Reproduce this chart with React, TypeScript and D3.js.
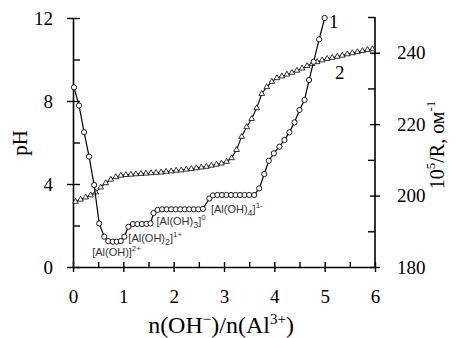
import { useEffect, useRef } from 'react';
import * as d3 from 'd3';

// curve 1: pH vs n(OH-)/n(Al3+)
const phX = [0.02, 0.12, 0.22, 0.32, 0.42, 0.52, 0.62, 0.7, 0.79, 0.87, 0.95, 1.02, 1.1, 1.19, 1.28, 1.37, 1.46, 1.54,
  1.6, 1.68, 1.77, 1.86, 1.95, 2.04, 2.13, 2.22, 2.31, 2.4, 2.49, 2.58, 2.71, 2.78, 2.87, 2.96, 3.05, 3.14, 3.23, 3.32,
  3.41, 3.5, 3.6, 3.7, 3.8, 3.89, 3.99, 4.1, 4.2, 4.3, 4.4, 4.5, 4.6, 4.69, 4.78, 4.89, 5.0];
const phY = [8.66, 7.78, 6.5, 5.32, 3.95, 2.1, 1.46, 1.25, 1.22, 1.22, 1.25, 1.46, 1.94, 2.07, 2.07, 2.07, 2.08, 2.1,
  2.6, 2.75, 2.78, 2.78, 2.78, 2.78, 2.78, 2.78, 2.78, 2.78, 2.78, 2.8, 3.3, 3.45, 3.47, 3.47, 3.47, 3.47, 3.47, 3.47,
  3.47, 3.47, 3.47, 3.79, 4.48, 5.12, 5.48, 5.8, 6.12, 6.49, 6.97, 7.57, 8.05, 9.01, 9.89, 10.97, 12.0];

// curve 2: 10^5/R
const condX = [0.05, 0.15, 0.25, 0.35, 0.45, 0.55, 0.65, 0.75, 0.85, 0.95, 1.05, 1.15, 1.25, 1.35, 1.45, 1.55, 1.65,
  1.75, 1.85, 1.95, 2.05, 2.15, 2.25, 2.35, 2.45, 2.55, 2.65, 2.75, 2.85, 2.95, 3.05, 3.15, 3.25, 3.35, 3.45, 3.55,
  3.65, 3.75, 3.85, 3.95, 4.05, 4.15, 4.25, 4.35, 4.45, 4.55, 4.65, 4.75, 4.85, 4.95, 5.05, 5.15, 5.25, 5.35, 5.45,
  5.55, 5.65, 5.75, 5.85, 5.95];
const condY = [198.3, 198.9, 199.5, 200.1, 200.9, 202.3, 203.5, 204.5, 205.2, 205.6, 205.8, 205.9, 206.0, 206.1,
  206.2, 206.3, 206.4, 206.5, 206.7, 206.8, 207.0, 207.1, 207.3, 207.5, 207.7, 207.9, 208.1, 208.4, 208.7, 209.0,
  209.5, 210.5, 212.8, 216.5, 219.2, 221.5, 224.5, 228.5, 230.4, 231.9, 232.9, 233.4, 233.9, 234.4, 235.0, 235.6,
  236.3, 236.9, 237.4, 237.9, 238.3, 238.6, 238.9, 239.2, 239.6, 239.9, 240.2, 240.5, 240.8, 241.0];

const xTicks = [0, 1, 2, 3, 4, 5, 6];
const xMinor = [0.5, 1.5, 2.5, 3.5, 4.5, 5.5];
const phTicks = [0, 4, 8, 12];
const phMinor = [2, 6, 10];
const condTicks = [180, 200, 220, 240];
const condMinor = [190, 210, 230, 250];

// species labels: [x, pH (baseline), base, sub, charge]
const species: [number, number, string, string, string][] = [
  [0.38, 0.53, '[Al(OH)', '', '2+'],
  [1.1, 1.22, '[Al(OH)', '2', '1+'],
  [1.66, 2.02, '[Al(OH)', '3', '0'],
  [2.74, 2.58, '[Al(OH)', '4', '1-'],
];

export default function App() {
  const ref = useRef<SVGSVGElement>(null);

  useEffect(() => {
    if (!ref.current) return;
    const width = 460;
    const height = 338;
    const svg = d3.select(ref.current).attr('width', width).attr('height', height);
    svg.selectAll('*').remove();

    const x = d3.scaleLinear().domain([0, 6]).range([73, 375]);
    const y = d3.scaleLinear().domain([0, 12]).range([267, 18]);
    const y2 = d3.scaleLinear().domain([180, 250]).range([267, 17]);

    const serif = 'Liberation Serif, Times New Roman, serif';

    // axes
    const axisStyle = (g: any) => {
      g.select('.domain').attr('stroke', '#000').attr('stroke-width', 1.6);
      g.selectAll('.tick line').attr('stroke', '#000').attr('stroke-width', 1.4);
      g.selectAll('.tick text').attr('font-family', serif).attr('font-size', 19).attr('fill', '#000');
    };

    const gx = svg.append('g').attr('transform', 'translate(0,267)')
      .call(d3.axisBottom(x).tickValues(xTicks).tickFormat(d3.format('d')).tickSize(5).tickSizeOuter(0).tickPadding(18))
      .call(axisStyle);
    gx.selectAll('.tick line').attr('y1', -5);
    svg.append('g').attr('transform', 'translate(0,267)')
      .call(d3.axisBottom(x).tickValues(xMinor).tickSize(-5).tickFormat(() => ''))
      .call(axisStyle).select('.domain').remove();

    const gy = svg.append('g').attr('transform', 'translate(73,0)')
      .call(d3.axisLeft(y).tickValues(phTicks).tickSize(6).tickSizeOuter(0).tickPadding(14))
      .call(axisStyle);
    gy.selectAll('.tick line').attr('x1', 7);
    svg.append('g').attr('transform', 'translate(73,0)')
      .call(d3.axisLeft(y).tickValues(phMinor).tickSize(-7).tickFormat(() => ''))
      .call(axisStyle).select('.domain').remove();

    const gy2 = svg.append('g').attr('transform', 'translate(375,0)')
      .call(d3.axisRight(y2).tickValues(condTicks).tickSize(5).tickSizeOuter(0).tickPadding(17))
      .call(axisStyle);
    gy2.selectAll('.tick line').attr('x1', -5);
    gy2.select('.domain').attr('d', `M0,${y2(250)}V${y2(180)}`);
    svg.append('g').attr('transform', 'translate(375,0)')
      .call(d3.axisRight(y2).tickValues(condMinor).tickSize(-7).tickFormat(() => ''))
      .call(axisStyle).select('.domain').remove();

    // curve 2 (triangles)
    const cond = condX.map((v, i) => [v, condY[i]] as [number, number]);
    svg.append('path')
      .attr('d', d3.line<[number, number]>().x((d) => x(d[0])).y((d) => y2(d[1]))(cond) || '')
      .attr('fill', 'none').attr('stroke', '#000').attr('stroke-width', 1.1);
    const tri = d3.symbol().type(d3.symbolTriangle).size(14);
    svg.append('g').selectAll('path').data(cond).join('path')
      .attr('d', tri)
      .attr('transform', (d) => `translate(${x(d[0])},${y2(d[1])})`)
      .attr('fill', '#fff').attr('stroke', '#000').attr('stroke-width', 0.8);

    // curve 1 (circles)
    const ph = phX.map((v, i) => [v, phY[i]] as [number, number]);
    svg.append('path')
      .attr('d', d3.line<[number, number]>().x((d) => x(d[0])).y((d) => y(d[1]))(ph) || '')
      .attr('fill', 'none').attr('stroke', '#000').attr('stroke-width', 1.2);
    svg.append('g').selectAll('circle').data(ph).join('circle')
      .attr('cx', (d) => x(d[0])).attr('cy', (d) => y(d[1])).attr('r', 2.6)
      .attr('fill', '#fff').attr('stroke', '#000').attr('stroke-width', 0.9);

    // species labels
    species.forEach(([sx, sy, base, sub, charge]) => {
      const t = svg.append('text').attr('x', x(sx)).attr('y', y(sy))
        .attr('font-family', 'Liberation Sans, Arial, sans-serif').attr('font-size', 11).attr('fill', '#333');
      t.append('tspan').text(base);
      if (sub) {
        t.append('tspan').attr('font-size', 9).attr('dy', 3).text(sub);
        t.append('tspan').attr('dy', -3).text(']');
      } else {
        t.append('tspan').text(']');
      }
      t.append('tspan').attr('font-size', 8).attr('dy', -5).text(charge);
    });

    // curve labels
    svg.append('text').attr('x', 329).attr('y', 28).attr('font-family', serif).attr('font-size', 19).text('1');
    svg.append('text').attr('x', 335).attr('y', 79).attr('font-family', serif).attr('font-size', 19).text('2');

    // axis titles
    svg.append('text').attr('transform', 'translate(27,143) rotate(-90)').attr('text-anchor', 'middle')
      .attr('font-family', serif).attr('font-size', 21).text('pH');

    const xt = svg.append('text').attr('x', 221).attr('y', 333).attr('text-anchor', 'middle')
      .attr('font-family', serif).attr('font-size', 24);
    xt.append('tspan').text('n(OH');
    xt.append('tspan').attr('dy', -9).attr('font-size', 15).text('−');
    xt.append('tspan').attr('dy', 9).text(')/n(Al');
    xt.append('tspan').attr('dy', -9).attr('font-size', 15).text('3+');
    xt.append('tspan').attr('dy', 9).text(')');

    const rt = svg.append('text').attr('transform', 'translate(444,145) rotate(-90)').attr('text-anchor', 'middle')
      .attr('font-family', serif).attr('font-size', 20);
    rt.append('tspan').text('10');
    rt.append('tspan').attr('dy', -9).attr('font-size', 13).text('5');
    rt.append('tspan').attr('dy', 9).text('/R, ом');
    rt.append('tspan').attr('dy', -9).attr('font-size', 13).text('-1');
  }, []);

  return <svg ref={ref} style={{ position: 'absolute', left: 0, top: 0 }}></svg>;
}
